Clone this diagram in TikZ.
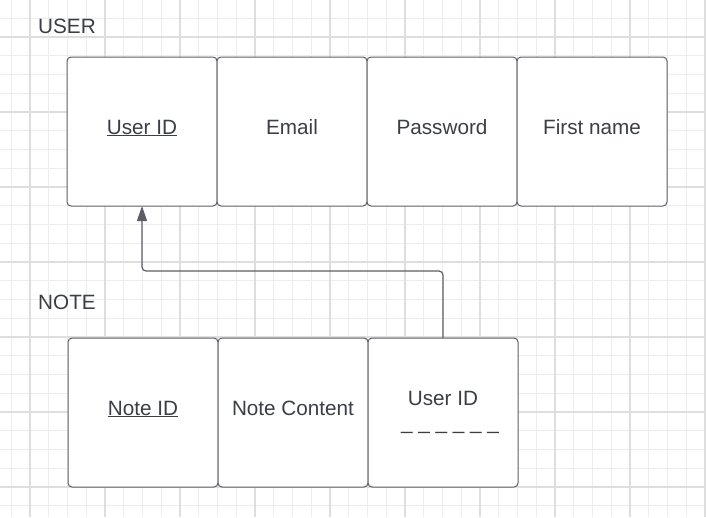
\documentclass[tikz,border=0pt]{standalone}
\usepackage{fontspec}
\setmainfont{Liberation Sans}
\usetikzlibrary{positioning,arrows.meta}
\definecolor{ink}{HTML}{3B3E45}
\definecolor{edge}{HTML}{5B5E64}
\definecolor{gridminor}{HTML}{EDEDED}
\definecolor{gridmajor}{HTML}{DEDEDE}
\newcommand{\cell}[1]{\raisebox{-2.5pt}[0pt][0pt]{#1}}

\begin{document}
\begin{tikzpicture}[x=1pt,y=-1pt,
  font=\fontsize{20.7}{24}\selectfont, text=ink,
  attr/.style={draw=edge, fill=white, line width=1pt, rounded corners=4pt,
    minimum width=150pt, minimum height=149pt, inner sep=0pt, outer sep=0pt,
    align=center},
  entity/.style={anchor=base west, inner sep=0pt},
  link/.style={draw=edge, line width=1.2pt, rounded corners=4pt,
    -{Triangle[width=10pt,length=15pt]}}]
  \useasboundingbox[fill=white] (0,0) rectangle (706,517);
  %\draw[help lines] grid
  \foreach \k in {-1,...,36}
    \draw[gridminor, line width=1pt] ({30+18.75*\k},0) -- ({30+18.75*\k},517);
  \foreach \k in {-1,...,25}
    \draw[gridminor, line width=1pt] (0,{37+18.75*\k}) -- (706,{37+18.75*\k});
  \foreach \k in {0,...,9}
    \draw[gridmajor, line width=2.5pt] ({30+75*\k},0) -- ({30+75*\k},517);
  \foreach \k in {0,...,6}
    \draw[gridmajor, line width=2.5pt] (0,{37+75*\k}) -- (706,{37+75*\k});

  \node[entity] (user) at (38,33) {USER};
  \node[attr, anchor=north west] (uid) at (67,57) {\cell{\underline{User ID}}};
  \node[attr, right=0pt of uid] (email) {\cell{Email}};
  \node[attr, right=0pt of email] (pwd) {\cell{Password}};
  \node[attr, right=0pt of pwd] (fname) {\cell{First name}};

  \node[entity] (note) at (38,309) {NOTE};
  \node[attr, anchor=north west] (nid) at (68,338) {\cell{\underline{Note ID}}};
  \node[attr, right=0pt of nid] (content) {\cell{Note Content}};
  \node[attr, right=0pt of content] (fk)
    {User ID\\\hspace*{14pt}\_ \_ \_ \_ \_ \_};

  \draw[link] (fk.north) -- ++(0,-67) -| (uid.south);
\end{tikzpicture}
\end{document}
